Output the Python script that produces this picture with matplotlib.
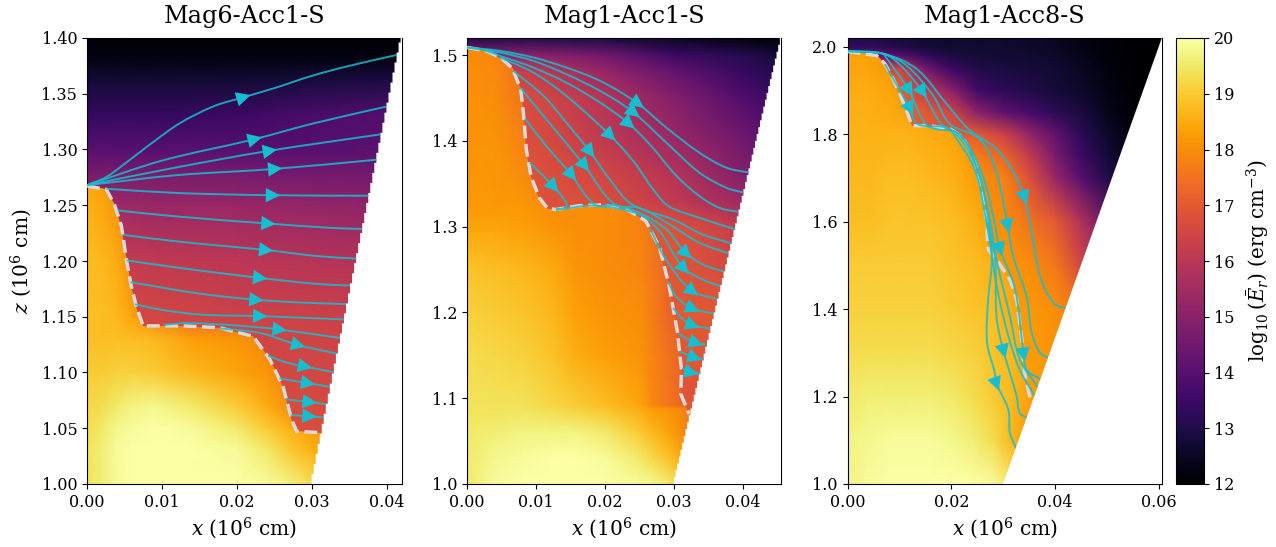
import numpy as np
import matplotlib
matplotlib.use("Agg")
import matplotlib.pyplot as plt
from matplotlib.patches import Polygon, FancyArrowPatch, PathPatch
from matplotlib.path import Path

plt.rcParams['font.family'] = 'DejaVu Serif'
plt.rcParams['mathtext.fontset'] = 'dejavuserif'

titles = ['Mag6-Acc1-S', 'Mag1-Acc1-S', 'Mag1-Acc8-S']
xlims = [0.042, 0.0456, 0.0606]
zlims = [1.40, 1.52, 2.02]
xticks = [[0.0, 0.01, 0.02, 0.03, 0.04], [0.0, 0.01, 0.02, 0.03, 0.04], [0.0, 0.02, 0.04, 0.06]]
zticks = [[1.0, 1.05, 1.1, 1.15, 1.2, 1.25, 1.3, 1.35, 1.4], [1.0, 1.1, 1.2, 1.3, 1.4, 1.5],
          [1.0, 1.2, 1.4, 1.6, 1.8, 2.0]]
zfmt = ['%.2f', '%.1f', '%.1f']
stair_dz = [0.009, 0.008, 0.0025]

# --- Mag6-Acc1-S ---
p1_shock = [(0, 1.2673), (.0026, 1.2642), (.0037, 1.25), (.0046, 1.2312), (.0053, 1.1998), (.0059, 1.1779),
            (.0066, 1.159), (.0075, 1.1418), (.0128, 1.1418), (.0177, 1.1402), (.0222, 1.1324), (.0244, 1.112),
            (.0262, 1.0869), (.0273, 1.0587), (.028, 1.0471), (.0313, 1.0461)]
p1_up_x = [0, .005, .01, .02, .03, .042]
p1_up_z = [1.0, 1.05, 1.1, 1.15, 1.2, 1.25, 1.28, 1.30, 1.33, 1.36, 1.38, 1.40]
p1_up = [[16.8, 16.8, 16.8, 16.8, 16.8, 16.8],
         [16.8, 16.8, 16.8, 16.7, 16.7, 16.6],
         [16.7, 16.7, 16.7, 16.6, 16.5, 16.5],
         [16.6, 16.6, 16.5, 16.4, 16.4, 16.3],
         [16.2, 16.2, 16.1, 16.0, 15.9, 15.8],
         [15.4, 15.4, 15.3, 15.3, 15.2, 15.1],
         [14.6, 14.6, 14.6, 14.6, 14.5, 14.5],
         [14.0, 14.0, 14.0, 14.0, 14.0, 14.1],
         [13.4, 13.4, 13.4, 13.5, 13.8, 14.0],
         [12.8, 12.8, 12.8, 12.8, 12.9, 13.0],
         [12.3, 12.3, 12.3, 12.3, 12.3, 12.3],
         [12.0, 12.0, 12.0, 12.0, 12.0, 12.0]]
p1_down_x = [0, .002, .004, .006, .009, .014, .02, .024, .027, .03, .033]
p1_down_z = [1.0, 1.03, 1.05, 1.07, 1.10, 1.13, 1.15, 1.2, 1.27]
p1_down = [[19.4, 19.6, 19.9, 20, 20, 20, 20, 19.9, 19.7, 19.3, 18.5],
           [19.4, 19.6, 19.9, 20, 20, 20, 19.9, 19.5, 19.0, 18.6, 18.2],
           [19.3, 19.5, 19.8, 19.9, 20, 19.9, 19.5, 19.0, 18.6, 18.3, 18.0],
           [19.2, 19.3, 19.5, 19.7, 19.8, 19.5, 19.0, 18.5, 18.0, 17.6, 17.3],
           [19.0, 19.0, 19.1, 19.1, 19.0, 18.7, 18.4, 18.1, 17.7, 17.3, 17.0],
           [18.8, 18.8, 18.8, 18.8, 18.7, 18.3, 18.1, 17.9, 17.5, 17.2, 17.0],
           [18.8, 18.8, 18.7, 18.4, 17.8, 17.3, 17.2, 17.1, 17.0, 17.0, 17.0],
           [18.8, 18.7, 18.5, 17.9, 17.0, 17.0, 17.0, 17.0, 17.0, 17.0, 17.0],
           [18.5, 18.3, 18.0, 17.5, 17.0, 17.0, 17.0, 17.0, 17.0, 17.0, 17.0]]
p1_lines = [[(0, 1.268), (.0025, 1.275), (.005, 1.287), (.0085, 1.305), (.0125, 1.324), (.017, 1.339), (.0207, 1.3465),
             (.025, 1.355), (.03, 1.366), (.035, 1.375), (.0415, 1.385)],
            [(0, 1.268), (.01, 1.29), (.0222, 1.309), (.03, 1.323), (.0403, 1.339)],
            [(0, 1.268), (.012, 1.284), (.0242, 1.2987), (.0396, 1.314)],
            [(0, 1.268), (.012, 1.277), (.0249, 1.2825), (.0389, 1.291)],
            [(.0026, 1.2648), (.012, 1.261), (.0246, 1.259), (.0379, 1.2585)],
            [(.0041, 1.2453), (.0119, 1.24), (.024, 1.2337), (.0329, 1.2296), (.037, 1.2287)],
            [(.0048, 1.2234), (.0128, 1.217), (.0237, 1.21), (.0306, 1.2045), (.0362, 1.202)],
            [(.0053, 1.2005), (.0133, 1.193), (.0229, 1.185), (.0306, 1.1795), (.0354, 1.178)],
            [(.0058, 1.181), (.0151, 1.1707), (.0224, 1.1653), (.0284, 1.1628), (.035, 1.1613)],
            [(.0064, 1.1613), (.0097, 1.1565), (.0151, 1.152), (.0229, 1.1506), (.0345, 1.1475)],
            [(.0102, 1.1427), (.0133, 1.1443), (.0195, 1.1424), (.0255, 1.1387), (.034, 1.1308)],
            [(.0177, 1.1396), (.0231, 1.1355), (.028, 1.125), (.0335, 1.1167)],
            [(.0242, 1.115), (.0266, 1.109), (.0289, 1.1057), (.0331, 1.1)],
            [(.0257, 1.0947), (.0293, 1.0907), (.0327, 1.0869)],
            [(.0265, 1.0759), (.0295, 1.0737), (.0323, 1.0712)],
            [(.0272, 1.0618), (.0295, 1.0609), (.0318, 1.0596)]]
p1_arrows = [(.0207, 1.3465), (.0222, 1.309), (.0242, 1.2987), (.0249, 1.2825), (.0246, 1.259), (.024, 1.2337),
             (.0237, 1.21), (.0229, 1.185), (.0224, 1.1653), (.0229, 1.1506), (.0255, 1.1387), (.028, 1.125),
             (.0289, 1.1057), (.0293, 1.0907), (.0295, 1.0737), (.0295, 1.0609)]

# --- Mag1-Acc1-S ---
p2_shock = [(0, 1.509), (.0028, 1.505), (.0049, 1.497), (.0066, 1.4845), (.0078, 1.46), (.0082, 1.431), (.0086, 1.39),
            (.0093, 1.358), (.0105, 1.3335), (.0117, 1.3212), (.0129, 1.32), (.0163, 1.3245), (.0197, 1.3253),
            (.023, 1.321), (.0259, 1.307), (.0279, 1.2763), (.0293, 1.2314), (.0305, 1.178), (.0311, 1.1335),
            (.031, 1.105), (.0322, 1.0816)]
p2_up_x = [0, .005, .01, .02, .03, .04, .046]
p2_up_z = [1.0, 1.1, 1.2, 1.3, 1.33, 1.36, 1.4, 1.45, 1.48, 1.5, 1.52]
p2_up = [[17.2, 17.2, 17.2, 17.2, 17.2, 17.2, 17.2],
         [17.0, 17.0, 17.0, 17.0, 16.9, 16.8, 16.8],
         [17.0, 17.0, 17.0, 17.0, 17.0, 16.9, 16.8],
         [17.0, 17.0, 17.0, 17.0, 16.8, 16.2, 15.9],
         [16.8, 16.8, 16.8, 16.7, 16.1, 15.4, 15.0],
         [16.8, 16.8, 16.8, 16.5, 15.9, 14.9, 14.5],
         [16.8, 16.8, 16.7, 16.1, 15.4, 14.5, 14.0],
         [16.8, 16.8, 16.6, 15.9, 14.9, 13.9, 13.4],
         [16.6, 16.5, 16.2, 15.3, 14.3, 13.4, 13.0],
         [15.0, 15.0, 15.0, 14.5, 13.5, 13.1, 12.7],
         [13.0, 13.0, 13.0, 12.9, 12.5, 12.2, 12.0]]
p2_down_x = [0, .004, .008, .012, .016, .02, .025, .027, .029, .031, .033]
p2_down_z = [1.0, 1.03, 1.06, 1.088, 1.092, 1.15, 1.2, 1.25, 1.3, 1.32, 1.4, 1.5, 1.52]
p2_down = [[19.5, 19.9, 20, 20, 20, 20, 19.9, 19.8, 19.6, 19.1, 18.5],
           [19.5, 19.8, 19.9, 20, 20, 19.9, 19.5, 19.2, 18.9, 18.5, 18.0],
           [19.5, 19.6, 19.7, 19.7, 19.7, 19.5, 19.0, 18.7, 18.4, 18.0, 17.6],
           [19.4, 19.4, 19.4, 19.3, 19.1, 18.9, 18.5, 18.2, 18.1, 17.9, 17.5],
           [19.4, 19.4, 19.4, 19.2, 19.0, 18.8, 18.4, 17.9, 17.6, 17.3, 17.0],
           [19.3, 19.2, 19.1, 18.9, 18.5, 18.3, 18.1, 17.8, 17.5, 17.2, 17.0],
           [19.1, 19.0, 18.9, 18.7, 18.3, 18.1, 18.0, 17.7, 17.3, 17.1, 17.0],
           [18.9, 18.8, 18.7, 18.5, 18.1, 18.0, 17.9, 17.6, 17.3, 17.1, 17.0],
           [18.4, 18.4, 18.3, 18.1, 18.0, 18.0, 17.8, 17.5, 17.2, 17.1, 17.0],
           [18.2, 18.2, 18.2, 18.0, 18.0, 18.0, 17.8, 17.5, 17.2, 17.1, 17.0],
           [18.1, 18.1, 17.8, 17.2, 17.0, 17.0, 17.0, 17.0, 17.0, 17.0, 17.0],
           [18.0, 17.9, 17.4, 17.2, 17.0, 17.0, 17.0, 17.0, 17.0, 17.0, 17.0],
           [18.0, 17.9, 17.4, 17.2, 17.0, 17.0, 17.0, 17.0, 17.0, 17.0, 17.0]]
p2_lines = [[(0, 1.509), (.0048, 1.505), (.0096, 1.4973), (.0144, 1.4856), (.0193, 1.47), (.0246, 1.4447), (.0289, 1.4155),
             (.0337, 1.3863), (.0376, 1.3688), (.041, 1.3629)],
            [(0, 1.509), (.0048, 1.503), (.0096, 1.4934), (.0144, 1.4778), (.0193, 1.4583), (.024, 1.4342), (.0289, 1.398),
             (.0337, 1.363), (.0376, 1.3454), (.0402, 1.3396)],
            [(.0025, 1.506), (.0048, 1.4992), (.0096, 1.4856), (.0144, 1.468), (.0193, 1.4447), (.0233, 1.4213), (.0265, 1.396),
             (.0304, 1.359), (.0337, 1.3357), (.0366, 1.322), (.0396, 1.317)],
            [(.0048, 1.4973), (.0096, 1.4798), (.0144, 1.4525), (.0206, 1.4077), (.0241, 1.3766), (.027, 1.3435),
             (.0292, 1.324), (.0337, 1.3104), (.039, 1.2967)],
            [(.0067, 1.4817), (.0111, 1.4525), (.0144, 1.4214), (.0177, 1.389), (.0207, 1.3551), (.0239, 1.326),
             (.0299, 1.3084), (.0342, 1.2909), (.0386, 1.28)],
            [(.0077, 1.4622), (.0115, 1.4252), (.0169, 1.3727), (.0214, 1.326), (.025, 1.322), (.0294, 1.3026),
             (.0337, 1.2812), (.0382, 1.2683)],
            [(.0084, 1.426), (.0115, 1.3941), (.015, 1.3618), (.0185, 1.326), (.0214, 1.325), (.025, 1.3162),
             (.0289, 1.2968), (.0316, 1.2703), (.0342, 1.2559), (.0376, 1.2469)],
            [(.0091, 1.3746), (.0124, 1.3481), (.0144, 1.3279), (.0143, 1.3225), (.013, 1.32), (.0185, 1.3245), (.025, 1.3143),
             (.0279, 1.2948), (.0313, 1.2527), (.0342, 1.2383), (.037, 1.2298)],
            [(.0265, 1.2987), (.0287, 1.2637), (.0325, 1.2259), (.0365, 1.215)],
            [(.0291, 1.2364), (.0303, 1.2189), (.0325, 1.2052), (.036, 1.1982)],
            [(.0299, 1.2052), (.0311, 1.1936), (.0325, 1.1858), (.0355, 1.1807)],
            [(.0306, 1.1753), (.033, 1.1651), (.035, 1.1624)],
            [(.0308, 1.1546), (.0328, 1.148), (.0345, 1.1449)],
            [(.0312, 1.1351), (.0323, 1.1305), (.034, 1.1293)]]
p2_arrows = [(.0246, 1.4447), (.024, 1.4342), (.0233, 1.4213), (.0206, 1.4077), (.0177, 1.389), (.0169, 1.3727),
             (.015, 1.3618), (.0124, 1.3481), (.0325, 1.2259), (.0325, 1.2052), (.0325, 1.1858), (.033, 1.1651),
             (.0328, 1.148), (.0323, 1.1305), (.0316, 1.2703), (.0313, 1.2527)]

# --- Mag1-Acc8-S ---
p3_shock = [(0, 1.9892), (.0056, 1.98), (.0072, 1.961), (.0088, 1.9266), (.0101, 1.8922), (.0114, 1.854), (.0124, 1.8195),
            (.0159, 1.8195), (.0198, 1.8119), (.0223, 1.7928), (.0246, 1.7354), (.0258, 1.6743), (.0268, 1.6055),
            (.0271, 1.5367), (.0287, 1.5138), (.0313, 1.4679), (.0326, 1.422), (.0336, 1.3303), (.0342, 1.2462),
            (.0352, 1.1965)]
p3_up_x = [0, .005, .01, .015, .02, .025, .03, .035, .04, .045, .05, .055, .0606]
p3_up_z = [1.0, 1.2, 1.4, 1.5, 1.6, 1.7, 1.75, 1.8, 1.85, 1.9, 1.95, 1.98, 2.0, 2.02]
p3_up = [[18.0, 18.0, 18.0, 18.0, 18.0, 18.0, 18.0, 18.0, 18.0, 18.0, 18.0, 18.0, 18.0],
         [18.3, 18.3, 18.3, 18.3, 18.3, 18.3, 18.3, 18.3, 18.2, 18.0, 18.0, 18.0, 18.0],
         [18.2, 18.2, 18.2, 18.2, 18.2, 18.2, 18.2, 18.2, 18.0, 17.7, 17.0, 16.0, 15.0],
         [18.2, 18.2, 18.2, 18.2, 18.2, 18.2, 18.2, 18.0, 17.6, 16.5, 15.5, 15.0, 14.0],
         [18.0, 18.0, 18.0, 18.0, 18.0, 18.0, 18.0, 17.5, 17.0, 15.8, 14.4, 13.5, 13.0],
         [18.0, 18.0, 18.0, 18.0, 18.0, 18.0, 17.8, 16.8, 15.3, 14.0, 13.0, 12.5, 12.0],
         [17.7, 17.7, 17.7, 17.7, 17.7, 17.7, 17.3, 16.2, 14.7, 13.5, 12.8, 12.3, 12.0],
         [17.0, 17.0, 17.0, 17.0, 17.0, 17.0, 16.4, 15.2, 14.2, 13.2, 12.6, 12.1, 12.0],
         [17.0, 17.0, 17.0, 17.0, 16.5, 15.0, 14.2, 13.7, 13.2, 12.9, 12.4, 12.0, 12.0],
         [17.2, 17.2, 17.2, 16.2, 15.0, 13.6, 13.2, 13.0, 12.8, 12.6, 12.3, 12.0, 12.0],
         [16.5, 16.5, 16.5, 14.5, 13.5, 13.0, 12.9, 12.8, 12.7, 12.5, 12.2, 12.0, 12.0],
         [14.5, 14.5, 14.0, 13.3, 12.9, 12.8, 12.7, 12.7, 12.6, 12.4, 12.1, 12.0, 12.0],
         [13.3, 13.3, 13.0, 12.8, 12.7, 12.7, 12.7, 12.6, 12.5, 12.3, 12.1, 12.0, 12.0],
         [13.0, 13.0, 12.8, 12.7, 12.6, 12.6, 12.6, 12.6, 12.5, 12.3, 12.1, 12.0, 12.0]]
p3_down_x = [0, .004, .008, .012, .016, .02, .024, .028, .032, .036, .04]
p3_down_z = [1.0, 1.1, 1.2, 1.3, 1.4, 1.5, 1.6, 1.7, 1.8, 1.9, 2.0]
p3_down = [[19.7, 19.9, 20, 20, 20, 20, 20, 19.9, 19.4, 18.5, 18.0],
           [19.7, 19.8, 19.9, 19.9, 19.9, 19.8, 19.6, 19.3, 18.6, 18.0, 17.8],
           [19.5, 19.6, 19.6, 19.6, 19.6, 19.5, 19.3, 19.0, 18.7, 18.2, 18.0],
           [19.3, 19.3, 19.3, 19.3, 19.3, 19.2, 19.1, 18.9, 18.7, 18.3, 18.0],
           [19.1, 19.1, 19.1, 19.1, 19.1, 19.0, 18.9, 18.8, 18.5, 18.2, 18.0],
           [19.0, 19.0, 19.0, 19.0, 19.0, 18.9, 18.8, 18.6, 18.3, 18.0, 18.0],
           [18.8, 18.8, 18.9, 18.9, 18.9, 18.8, 18.6, 18.3, 18.0, 18.0, 18.0],
           [18.7, 18.7, 18.8, 18.8, 18.7, 18.6, 18.3, 18.1, 18.0, 18.0, 18.0],
           [18.6, 18.6, 18.6, 18.6, 18.5, 18.4, 18.2, 18.0, 18.0, 18.0, 18.0],
           [18.5, 18.5, 18.4, 18.0, 18.0, 18.0, 18.0, 18.0, 18.0, 18.0, 18.0],
           [18.3, 18.3, 18.0, 18.0, 18.0, 18.0, 18.0, 18.0, 18.0, 18.0, 18.0]]
p3_lines = [[(0, 1.99), (.0069, 1.9839), (.0133, 1.9495), (.0191, 1.8692), (.0233, 1.8119), (.0287, 1.766), (.032, 1.7125),
             (.034, 1.659), (.0355, 1.5749), (.0371, 1.4756), (.0397, 1.4144), (.0425, 1.3991)],
            [(0, 1.99), (.0069, 1.984), (.0114, 1.957), (.0165, 1.8883), (.0197, 1.8234), (.0255, 1.7889), (.0287, 1.7125),
             (.0308, 1.594), (.0319, 1.5214), (.0345, 1.4297), (.0355, 1.3456), (.0371, 1.2997), (.0387, 1.2883)],
            [(0, 1.99), (.0069, 1.984), (.01, 1.96), (.0143, 1.8998), (.0181, 1.8234), (.0222, 1.7928), (.0262, 1.7),
             (.0283, 1.6), (.0293, 1.5405), (.0323, 1.445), (.0339, 1.2997), (.0345, 1.2615), (.0373, 1.2386)],
            [(.0069, 1.984), (.009, 1.95), (.0117, 1.9036), (.0155, 1.8195), (.0215, 1.8), (.025, 1.72), (.0275, 1.6),
             (.0287, 1.5138), (.0313, 1.3838), (.0332, 1.2844), (.0368, 1.2195)],
            [(.0072, 1.96), (.0119, 1.8616), (.0135, 1.8234), (.02, 1.81), (.025, 1.72), (.0272, 1.6), (.0281, 1.4985),
             (.03, 1.3838), (.0329, 1.2692), (.0361, 1.2004)],
            [(.0198, 1.8119), (.0245, 1.72), (.0268, 1.6), (.0284, 1.5214), (.0287, 1.3838), (.03, 1.3074), (.0326, 1.2004),
             (.0332, 1.1621), (.0348, 1.1506)],
            [(.0267, 1.6055), (.0278, 1.5138), (.0271, 1.422), (.0269, 1.3227), (.0284, 1.2538), (.0286, 1.2324),
             (.031, 1.1698), (.0313, 1.1163), (.0325, 1.0819)]]
p3_arrows = [(.034, 1.659), (.0308, 1.594), (.0143, 1.8998), (.0117, 1.9036), (.0119, 1.8616), (.0293, 1.5405),
             (.03, 1.3074), (.0339, 1.2997), (.0286, 1.2324)]

shocks = [p1_shock, p2_shock, p3_shock]
ups = [(p1_up_x, p1_up_z, p1_up), (p2_up_x, p2_up_z, p2_up), (p3_up_x, p3_up_z, p3_up)]
downs = [(p1_down_x, p1_down_z, p1_down), (p2_down_x, p2_down_z, p2_down), (p3_down_x, p3_down_z, p3_down)]
all_lines = [p1_lines, p2_lines, p3_lines]
all_arrows = [p1_arrows, p2_arrows, p3_arrows]

line_color = '#17becf'
W, H = 1276.0, 547.0
lefts = [87, 467, 847.5]
axes_w = 314.5
axes_top, axes_bottom = 38.0, 484.0


def tangents(pts, scale):
    # unit tangents at every read point, measured in pixels
    p = pts * scale
    t = np.zeros_like(p)
    t[0] = p[1] - p[0]
    t[-1] = p[-1] - p[-2]
    t[1:-1] = p[2:] - p[:-2]
    return t / np.hypot(t[:, 0], t[:, 1])[:, None]


def curve_path(pts, scale):
    # bezier curve through the read points, so the streamlines are not angular
    t = tangents(pts, scale)
    verts = [tuple(pts[0])]
    codes = [Path.MOVETO]
    for j in range(len(pts) - 1):
        seg = np.hypot(*((pts[j + 1] - pts[j]) * scale)) / 3.0
        verts.append(tuple(pts[j] + t[j] * seg / scale))
        verts.append(tuple(pts[j + 1] - t[j + 1] * seg / scale))
        verts.append(tuple(pts[j + 1]))
        codes += [Path.CURVE4, Path.CURVE4, Path.CURVE4]
    return Path(verts, codes)


def add_arrow(ax, lines, pt, scale):
    # direction comes from the streamline that holds this point
    for line in lines:
        pts = np.array(line)
        d = np.hypot(pts[:, 0] - pt[0], pts[:, 1] - pt[1])
        k = int(np.argmin(d))
        if d[k] < 1e-6:
            t = tangents(pts, scale)[k]
            tail = pts[k] - 9 * t / scale
            head = pts[k] + 9 * t / scale
            ax.add_patch(FancyArrowPatch(tail, head, arrowstyle='-|>', mutation_scale=26, lw=0, color=line_color,
                                         shrinkA=0, shrinkB=0, zorder=6))
            return


fig = plt.figure(figsize=(W / 100, H / 100), dpi=100)
for i in range(3):
    ax = fig.add_axes([lefts[i] / W, 1 - axes_bottom / H, axes_w / W, (axes_bottom - axes_top) / H])
    scale = np.array([axes_w / xlims[i], (axes_bottom - axes_top) / (zlims[i] - 1.0)])
    ux, uz, uv = ups[i]
    ax.pcolormesh(ux, uz, np.array(uv), cmap='inferno', vmin=12, vmax=20, shading='gouraud', zorder=1)
    dx, dz, dv = downs[i]
    mesh = ax.pcolormesh(dx, dz, np.array(dv), cmap='inferno', vmin=12, vmax=20, shading='gouraud', zorder=2)
    shock = np.array(shocks[i])
    clip = Polygon(list(shocks[i]) + [(.08, shock[-1, 1]), (.08, 1.0), (0, 1.0)], transform=ax.transData)
    mesh.set_clip_path(clip)

    # white outside the cone, with the stepped edge of the grid
    zs = np.arange(1.0, zlims[i] + stair_dz[i], stair_dz[i])
    edge = []
    for z in zs:
        edge += [(0.03 * z, z), (0.03 * z, z + stair_dz[i])]
    ax.add_patch(Polygon(edge + [(.08, zlims[i] + .02), (.08, 1.0)], fc='white', ec='none', zorder=3))
    cone = Polygon([(0, 1.0)] + edge + [(0, zlims[i] + .02)], transform=ax.transData)

    ax.plot(shock[:, 0], shock[:, 1], color='#d9d9d9', lw=2.5, ls='--', zorder=4)
    for line in all_lines[i]:
        patch = PathPatch(curve_path(np.array(line), scale), fc='none', ec=line_color, lw=1.4, alpha=0.85, zorder=5)
        ax.add_patch(patch)
        patch.set_clip_path(cone)
    for pt in all_arrows[i]:
        add_arrow(ax, all_lines[i], pt, scale)

    ax.set_xlim(0, xlims[i])
    ax.set_ylim(1.0, zlims[i])
    ax.set_xticks(xticks[i])
    ax.set_xticklabels(['%.2f' % t for t in xticks[i]])
    ax.set_yticks(zticks[i])
    ax.set_yticklabels([zfmt[i] % t for t in zticks[i]])
    ax.tick_params(labelsize=11.5)
    ax.set_title(titles[i], fontsize=17.3, pad=11)
    ax.set_xlabel(r'$x$ ($10^6$ cm)', fontsize=14.5, labelpad=3.5)
    if i == 0:
        ax.set_ylabel(r'$z$ ($10^6$ cm)', fontsize=14.5, labelpad=5)

cax = fig.add_axes([1176 / W, 1 - axes_bottom / H, 28 / W, (axes_bottom - axes_top) / H])
sm = plt.cm.ScalarMappable(norm=plt.Normalize(12, 20), cmap='inferno')
cb = fig.colorbar(sm, cax=cax, ticks=range(12, 21))
cb.ax.tick_params(labelsize=11.5)
cb.set_label(r'$\log_{10}(\bar{E}_r)$ (erg cm$^{-3}$)', fontsize=14.2, labelpad=7)

fig.savefig('out.png', dpi=100)
